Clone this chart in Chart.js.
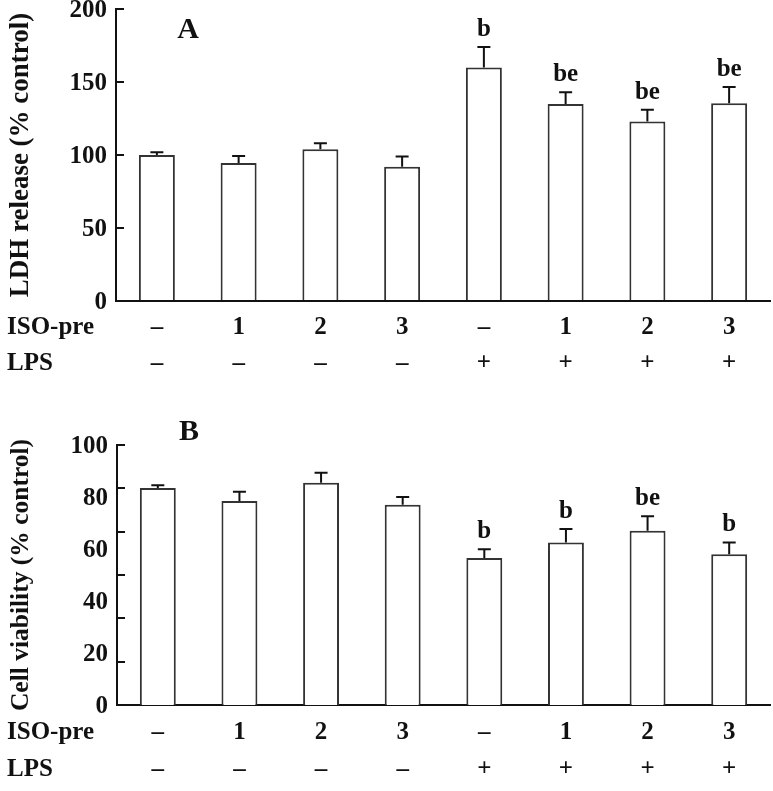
<!DOCTYPE html>
<html>
<head>
<meta charset="utf-8">
<script src="https://cdn.jsdelivr.net/npm/chart.js@4.4.1/dist/chart.umd.min.js"></script>
<style>
  body { margin: 0; background: #fff; overflow: hidden; }
  .wrap { position: relative; width: 773px; height: 791px; }
  .panel { position: absolute; left: 0; width: 773px; }
</style>
</head>
<body>
<div class="wrap">
  <div class="panel" style="top:0;height:391px"><canvas id="chartA"></canvas></div>
  <div class="panel" style="top:385px;height:412px"><canvas id="chartB"></canvas></div>
</div>
<script>
// groups: ISO-pre dose / LPS
const isoPre = ["–", "1", "2", "3", "–", "1", "2", "3"];
const lps = ["–", "–", "–", "–", "+", "+", "+", "+"];
const rowNames = ["ISO-pre", "LPS"];

// panel A: LDH release (% control)
const ldhMean = [100, 94.5, 104, 92, 160, 135, 123, 135.5];
const ldhErr = [1.8, 4.8, 4, 7, 14, 8, 8, 11];
const ldhSig = ["", "", "", "", "b", "be", "be", "be"];
const ldhTicks = [0, 50, 100, 150, 200];

// panel B: cell viability (% control)
const viaMean = [83.5, 78.5, 85.5, 77, 56.5, 62.5, 67, 58];
const viaErr = [1, 3.5, 3.8, 3, 3.4, 5.2, 5.6, 4.5];
const viaSig = ["", "", "", "", "b", "b", "be", "b"];
const viaTicks = [0, 20, 40, 60, 80, 100];
const viaMarks = [0, 16.67, 33.33, 50, 66.67, 83.33, 100];

const FONT = "'Liberation Serif', 'Times New Roman', serif";
const X_PAD = 9;
const TXT = 25;

const labels = isoPre.map((v, i) => [v, lps[i]]);

// error bars, significance letters, panel letter and row names
const annotate = {
  id: "annotate",
  afterDatasetsDraw(chart, args, opts) {
    const ctx = chart.ctx;
    const y = chart.scales.y;
    const meta = chart.getDatasetMeta(0);
    ctx.save();
    ctx.strokeStyle = "#111";
    ctx.lineWidth = 2;
    meta.data.forEach((bar, i) => {
      const top = y.getPixelForValue(opts.mean[i]);
      const hi = y.getPixelForValue(opts.mean[i] + opts.err[i]);
      ctx.beginPath();
      ctx.moveTo(bar.x, top);
      ctx.lineTo(bar.x, hi);
      ctx.moveTo(bar.x - 6.5, hi);
      ctx.lineTo(bar.x + 6.5, hi);
      ctx.stroke();
      if (opts.sig[i]) {
        ctx.fillStyle = "#111";
        ctx.font = "bold " + TXT + "px " + FONT;
        ctx.textAlign = "center";
        ctx.textBaseline = "bottom";
        ctx.fillText(opts.sig[i], bar.x, hi - 5);
      }
    });
    ctx.restore();
  },
  afterDraw(chart, args, opts) {
    const ctx = chart.ctx;
    const area = chart.chartArea;
    const xs = chart.scales.x;
    ctx.save();
    ctx.fillStyle = "#111";
    ctx.font = "bold 30px " + FONT;
    ctx.textAlign = "center";
    ctx.textBaseline = "middle";
    ctx.fillText(opts.panel, area.left + 72, area.top + opts.panelDy);
    ctx.font = "bold " + TXT + "px " + FONT;
    ctx.textAlign = "left";
    rowNames.forEach((name, j) => {
      ctx.fillText(name, 7, xs.top + X_PAD + opts.lineH * (j + 0.5));
    });
    ctx.restore();
  }
};

function noPad(scale) {
  scale.paddingTop = 0;
  scale.paddingBottom = 0;
  scale.paddingLeft = 0;
  scale.paddingRight = 0;
}

function xAxis(lineH) {
  return {
    grid: { display: false, drawTicks: false },
    border: { display: true, color: "#111", width: 2 },
    ticks: {
      color: "#111",
      padding: X_PAD,
      autoSkip: false,
      maxRotation: 0,
      font: { family: FONT, size: TXT, weight: "bold", lineHeight: lineH / TXT }
    },
    afterFit: noPad
  };
}

function barData(values) {
  return {
    labels: labels,
    datasets: [{
      data: values,
      backgroundColor: "#fff",
      borderColor: "#333",
      borderWidth: 2,
      barPercentage: 1,
      categoryPercentage: 0.44
    }]
  };
}

new Chart(document.getElementById("chartA"), {
  type: "bar",
  data: barData(ldhMean),
  plugins: [annotate],
  options: {
    responsive: true,
    maintainAspectRatio: false,
    animation: false,
    layout: { padding: { top: 9, right: 3, left: 0, bottom: 0 } },
    plugins: {
      legend: { display: false },
      tooltip: { enabled: false },
      annotate: { mean: ldhMean, err: ldhErr, sig: ldhSig, panel: "A", panelDy: 21, lineH: 36 }
    },
    scales: {
      x: xAxis(36),
      y: {
        min: 0,
        max: 200,
        afterBuildTicks: (s) => { s.ticks = ldhTicks.map((v) => ({ value: v })); },
        grid: { drawOnChartArea: false, tickLength: -8, color: "#111", lineWidth: 2 },
        border: { display: true, color: "#111", width: 2 },
        ticks: {
          color: "#111",
          padding: 17,
          labelOffset: 2,
          font: { family: FONT, size: TXT, weight: "bold" }
        },
        title: {
          display: true,
          text: "LDH release (% control)",
          color: "#111",
          padding: { top: 5, bottom: 0 },
          font: { family: FONT, size: 27, weight: "bold" }
        },
        afterFit: (s) => { noPad(s); s.width = 116; }
      }
    }
  }
});

new Chart(document.getElementById("chartB"), {
  type: "bar",
  data: barData(viaMean),
  plugins: [annotate],
  options: {
    responsive: true,
    maintainAspectRatio: false,
    animation: false,
    layout: { padding: { top: 60, right: 3, left: 0, bottom: 0 } },
    plugins: {
      legend: { display: false },
      tooltip: { enabled: false },
      annotate: { mean: viaMean, err: viaErr, sig: viaSig, panel: "B", panelDy: -13, lineH: 37 }
    },
    scales: {
      x: xAxis(37),
      y: {
        position: "left",
        weight: 1,
        min: 0,
        max: 100,
        afterBuildTicks: (s) => { s.ticks = viaTicks.map((v) => ({ value: v })); },
        grid: { display: false, drawTicks: false },
        border: { display: false },
        ticks: {
          color: "#111",
          padding: 9,
          labelOffset: 2,
          font: { family: FONT, size: TXT, weight: "bold" }
        },
        title: {
          display: true,
          text: "Cell viability (% control)",
          color: "#111",
          padding: { top: 6, bottom: 0 },
          font: { family: FONT, size: 25.5, weight: "bold" }
        },
        afterFit: (s) => { noPad(s); s.width = 117; }
      },
      y2: {
        position: "left",
        weight: 0,
        min: 0,
        max: 100,
        afterBuildTicks: (s) => { s.ticks = viaMarks.map((v) => ({ value: v })); },
        grid: { drawOnChartArea: false, tickLength: -8, color: "#111", lineWidth: 2 },
        border: { display: true, color: "#111", width: 2 },
        ticks: { display: false },
        afterFit: (s) => { noPad(s); s.width = 0; }
      }
    }
  }
});
</script>
</body>
</html>
